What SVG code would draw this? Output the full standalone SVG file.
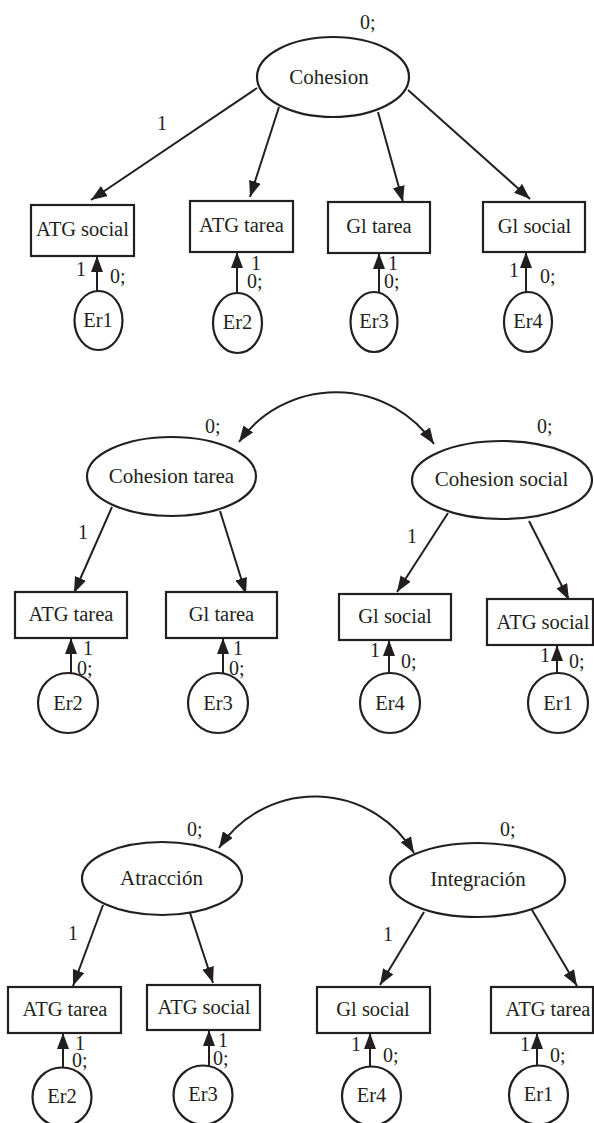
<svg xmlns="http://www.w3.org/2000/svg" width="594" height="1123" viewBox="0 0 594 1123">
<defs>
<marker id="ah" markerUnits="userSpaceOnUse" markerWidth="16" markerHeight="12" refX="16" refY="6" orient="auto-start-reverse" viewBox="0 0 16 12"><path d="M0,0 L16,6 L0,12 z" fill="#231f20"/></marker>
</defs>
<style>
.s{fill:#fff;stroke:#231f20;stroke-width:2.2}
.c{fill:none;stroke:#231f20;stroke-width:2}
text{font-family:"Liberation Serif","Times New Roman",serif;fill:#231f20}
.t{font-size:20.5px;text-anchor:middle}
.e{font-size:21px;text-anchor:middle}
.l{font-size:20px}
</style>
<rect width="594" height="1123" fill="#fff"/>

<g id="connectors">
<!-- top -->
<path class="c" d="M257 88 L91 200" marker-end="url(#ah)"/>
<path class="c" d="M279 107 L250 197" marker-end="url(#ah)"/>
<path class="c" d="M378 112 L403 202" marker-end="url(#ah)"/>
<path class="c" d="M408 90 L530 199" marker-end="url(#ah)"/>
<path class="c" d="M97 291 V256" marker-end="url(#ah)"/>
<path class="c" d="M237 293 V252" marker-end="url(#ah)"/>
<path class="c" d="M379 292 V253" marker-end="url(#ah)"/>
<path class="c" d="M526 292 V252" marker-end="url(#ah)"/>
<!-- middle -->
<path class="c" d="M239 442 A 119 119 0 0 1 434 444" marker-start="url(#ah)" marker-end="url(#ah)"/>
<path class="c" d="M112 507 L74 593" marker-end="url(#ah)"/>
<path class="c" d="M220 511 L246 594" marker-end="url(#ah)"/>
<path class="c" d="M448 513 L397 592" marker-end="url(#ah)"/>
<path class="c" d="M529 521 L569 600" marker-end="url(#ah)"/>
<path class="c" d="M71 673 V638" marker-end="url(#ah)"/>
<path class="c" d="M223 673 V638" marker-end="url(#ah)"/>
<path class="c" d="M389 673 V640" marker-end="url(#ah)"/>
<path class="c" d="M557 673 V645" marker-end="url(#ah)"/>
<!-- bottom -->
<path class="c" d="M219 848 A 115 115 0 0 1 414 853" marker-start="url(#ah)" marker-end="url(#ah)"/>
<path class="c" d="M103 905 L73 986" marker-end="url(#ah)"/>
<path class="c" d="M190 913 L213 983" marker-end="url(#ah)"/>
<path class="c" d="M424 912 L380 985" marker-end="url(#ah)"/>
<path class="c" d="M532 910 L577 986" marker-end="url(#ah)"/>
<path class="c" d="M63 1068 V1033" marker-end="url(#ah)"/>
<path class="c" d="M209 1065 V1030" marker-end="url(#ah)"/>
<path class="c" d="M370 1066 V1033" marker-end="url(#ah)"/>
<path class="c" d="M537 1065 V1033" marker-end="url(#ah)"/>
</g>

<g id="labels">
<text class="l" x="360" y="29">0;</text>
<text class="l" x="157" y="130">1</text>
<text class="l" x="76" y="276">1</text><text class="l" x="110" y="283">0;</text>
<text class="l" x="251" y="270">1</text><text class="l" x="247" y="288">0;</text>
<text class="l" x="388" y="270">1</text><text class="l" x="384" y="288">0;</text>
<text class="l" x="509" y="277">1</text><text class="l" x="540" y="283">0;</text>

<text class="l" x="205" y="433">0;</text>
<text class="l" x="537" y="433">0;</text>
<text class="l" x="78" y="539">1</text>
<text class="l" x="407" y="543">1</text>
<text class="l" x="83" y="655">1</text><text class="l" x="77" y="675">0;</text>
<text class="l" x="233" y="655">1</text><text class="l" x="229" y="675">0;</text>
<text class="l" x="370" y="657">1</text><text class="l" x="401" y="668">0;</text>
<text class="l" x="540" y="662">1</text><text class="l" x="569" y="668">0;</text>

<text class="l" x="187" y="836">0;</text>
<text class="l" x="500" y="836">0;</text>
<text class="l" x="68" y="940">1</text>
<text class="l" x="383" y="941">1</text>
<text class="l" x="75" y="1050">1</text><text class="l" x="72" y="1067">0;</text>
<text class="l" x="218" y="1047">1</text><text class="l" x="213" y="1065">0;</text>
<text class="l" x="351" y="1051">1</text><text class="l" x="383" y="1062">0;</text>
<text class="l" x="520" y="1051">1</text><text class="l" x="550" y="1062">0;</text>
</g>

<!-- top section -->
<g id="cohesion"><ellipse class="s" cx="333" cy="77" rx="76" ry="40"/><text class="e" x="329" y="84">Cohesion</text></g>
<g id="t-atg-social"><rect class="s" x="31" y="205" width="103" height="51"/><text class="t" x="82.5" y="236">ATG social</text></g>
<g id="t-atg-tarea"><rect class="s" x="190" y="201" width="103" height="51"/><text class="t" x="241.5" y="232">ATG tarea</text></g>
<g id="t-gl-tarea"><rect class="s" x="328" y="202" width="102" height="51"/><text class="t" x="379" y="233">Gl tarea</text></g>
<g id="t-gl-social"><rect class="s" x="483" y="202" width="102" height="50"/><text class="t" x="534.5" y="233">Gl social</text></g>
<g id="t-er1"><ellipse class="s" cx="98.5" cy="320.5" rx="24" ry="29.5"/><text class="t" x="98" y="327">Er1</text></g>
<g id="t-er2"><ellipse class="s" cx="237.5" cy="323" rx="24.5" ry="30"/><text class="t" x="237.5" y="329">Er2</text></g>
<g id="t-er3"><ellipse class="s" cx="374" cy="322" rx="23.5" ry="30"/><text class="t" x="374" y="328">Er3</text></g>
<g id="t-er4"><ellipse class="s" cx="528" cy="322" rx="24" ry="30"/><text class="t" x="528" y="328">Er4</text></g>

<!-- middle section -->
<g id="cohesion-tarea"><ellipse class="s" cx="171.5" cy="476.5" rx="84.5" ry="39.5"/><text class="e" x="171.5" y="483">Cohesion tarea</text></g>
<g id="cohesion-social"><ellipse class="s" cx="502" cy="480" rx="90" ry="39"/><text class="e" x="501.5" y="486">Cohesion social</text></g>
<g id="m-atg-tarea"><rect class="s" x="15" y="592" width="112" height="46"/><text class="t" x="71" y="621">ATG tarea</text></g>
<g id="m-gl-tarea"><rect class="s" x="166" y="592" width="111" height="46"/><text class="t" x="221.5" y="621">Gl tarea</text></g>
<g id="m-gl-social"><rect class="s" x="339" y="594" width="112" height="46"/><text class="t" x="395" y="623">Gl social</text></g>
<g id="m-atg-social"><rect class="s" x="487" y="599" width="106" height="46"/><text class="t" x="543" y="629">ATG social</text></g>
<g id="m-er2"><circle class="s" cx="68" cy="703" r="30"/><text class="t" x="68" y="710">Er2</text></g>
<g id="m-er3"><circle class="s" cx="218" cy="703" r="30"/><text class="t" x="218" y="710">Er3</text></g>
<g id="m-er4"><circle class="s" cx="390" cy="703" r="30"/><text class="t" x="390" y="710">Er4</text></g>
<g id="m-er1"><circle class="s" cx="558" cy="703" r="30"/><text class="t" x="558" y="710">Er1</text></g>

<!-- bottom section -->
<g id="atraccion"><ellipse class="s" cx="162" cy="878.5" rx="80" ry="36.5"/><text class="e" x="161.5" y="885">Atracción</text></g>
<g id="integracion"><ellipse class="s" cx="477.5" cy="880" rx="87.5" ry="37"/><text class="e" x="478" y="886">Integración</text></g>
<g id="b-atg-tarea"><rect class="s" x="8" y="987" width="113" height="46"/><text class="t" x="65" y="1016">ATG tarea</text></g>
<g id="b-atg-social"><rect class="s" x="147" y="985" width="113" height="45"/><text class="t" x="204" y="1014">ATG social</text></g>
<g id="b-gl-social"><rect class="s" x="317" y="987" width="113" height="46"/><text class="t" x="373" y="1016">Gl social</text></g>
<g id="b-atg-tarea2"><rect class="s" x="491" y="987" width="102" height="46"/><text class="t" x="548" y="1016">ATG tarea</text></g>
<g id="b-er2"><circle class="s" cx="62" cy="1097" r="29.5"/><text class="t" x="62" y="1103">Er2</text></g>
<g id="b-er3"><circle class="s" cx="203" cy="1095" r="29.5"/><text class="t" x="203" y="1101">Er3</text></g>
<g id="b-er4"><circle class="s" cx="371.5" cy="1096" r="29.5"/><text class="t" x="371.5" y="1102">Er4</text></g>
<g id="b-er1"><circle class="s" cx="538.5" cy="1095" r="29.5"/><text class="t" x="538.5" y="1101">Er1</text></g>
</svg>
